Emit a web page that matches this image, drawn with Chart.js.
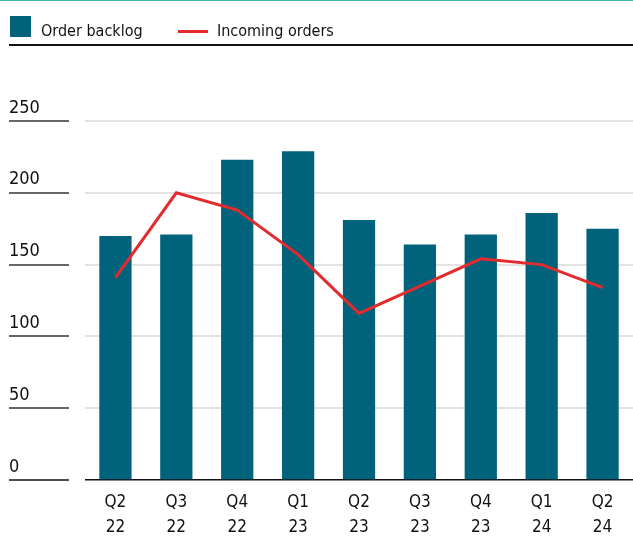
<!DOCTYPE html>
<html>
<head>
<meta charset="utf-8">
<script src="https://cdn.jsdelivr.net/npm/chart.js@4"></script>
<style>
  body { margin: 0; background: #fff; font-family: "DejaVu Sans Condensed", sans-serif; }
  #wrap { position: relative; width: 633px; height: 545px; }
  #chart { position: absolute; left: 0; top: 0; }
  .topline { position: absolute; left: 0; top: 0; width: 633px; height: 1px; background: #3db5a6; }
  .legend { position: absolute; left: 9px; top: 0; width: 624px; height: 44px; border-bottom: 2px solid #111; font-size: 16px; color: #111; }
  .sq { position: absolute; left: 1px; top: 16px; width: 21px; height: 21px; background: #00627b; }
  .lab1 { position: absolute; left: 32px; top: 21px; }
  .ln { position: absolute; left: 169px; top: 30px; width: 30px; height: 3px; background: #e32b2e; }
  .lab2 { position: absolute; left: 208px; top: 21px; }
</style>
</head>
<body>
<div id="wrap">
  <canvas id="chart" width="633" height="545"></canvas>
  <div class="topline"></div>
  <div class="legend">
    <div class="sq"></div><span class="lab1">Order backlog</span>
    <div class="ln"></div><span class="lab2">Incoming orders</span>
  </div>
</div>
<script>
const quarters = [['Q2', '22'], ['Q3', '22'], ['Q4', '22'], ['Q1', '23'], ['Q2', '23'], ['Q3', '23'], ['Q4', '23'], ['Q1', '24'], ['Q2', '24']];
const orderBacklog = [170, 171, 223, 229, 181, 164, 171, 186, 175];
const incomingOrders = [141, 200, 188, 157, 116, 135, 154, 150, 134];
const yTicks = [0, 50, 100, 150, 200, 250];

const fontFamily = '"DejaVu Sans Condensed", sans-serif';

// short marks left of the plot, under each y label
const leftMarks = {
    id: 'leftMarks',
    afterDraw(chart) {
        const ctx = chart.ctx, y = chart.scales.y;
        ctx.save();
        yTicks.forEach(v => {
            const py = Math.round(y.getPixelForValue(v));
            ctx.strokeStyle = v === 0 ? '#111' : '#666';
            ctx.lineWidth = v === 0 ? 1.5 : 2;
            ctx.beginPath();
            ctx.moveTo(9, py);
            ctx.lineTo(69, py);
            ctx.stroke();
        });
        ctx.restore();
    }
};

new Chart(document.getElementById('chart'), {
    type: 'bar',
    data: {
        labels: quarters,
        datasets: [
            { type: 'line', label: 'Incoming orders', data: incomingOrders, borderColor: '#e32b2e', borderWidth: 3, pointRadius: 0, tension: 0, order: 0 },
            { type: 'bar', label: 'Order backlog', data: orderBacklog, backgroundColor: '#00627b', categoryPercentage: 1, barPercentage: 0.53, order: 1 }
        ]
    },
    options: {
        responsive: false,
        animation: false,
        devicePixelRatio: 1,
        layout: { padding: { top: 121, left: 9, right: 0, bottom: 0 } },
        plugins: { legend: { display: false }, tooltip: { enabled: false } },
        scales: {
            x: {
                afterFit: s => { s.height = 65; },
                grid: { display: false },
                border: { display: false },
                ticks: { color: '#111', padding: 2, maxRotation: 0, font: { family: fontFamily, size: 17, lineHeight: 1.47 } }
            },
            y: {
                min: 0, max: 250,
                afterFit: s => { s.width = 76; },
                afterBuildTicks: s => { s.ticks = yTicks.map(v => ({ value: v })); },
                border: { display: false },
                grid: {
                    drawTicks: false,
                    color: c => c.tick && c.tick.value === 0 ? '#111' : '#e2e2e2',
                    lineWidth: c => c.tick && c.tick.value === 0 ? 1.5 : 2
                },
                ticks: { color: '#111', crossAlign: 'far', labelOffset: -13, padding: 0, font: { family: fontFamily, size: 18 } }
            }
        }
    },
    plugins: [leftMarks]
});
</script>
</body>
</html>
